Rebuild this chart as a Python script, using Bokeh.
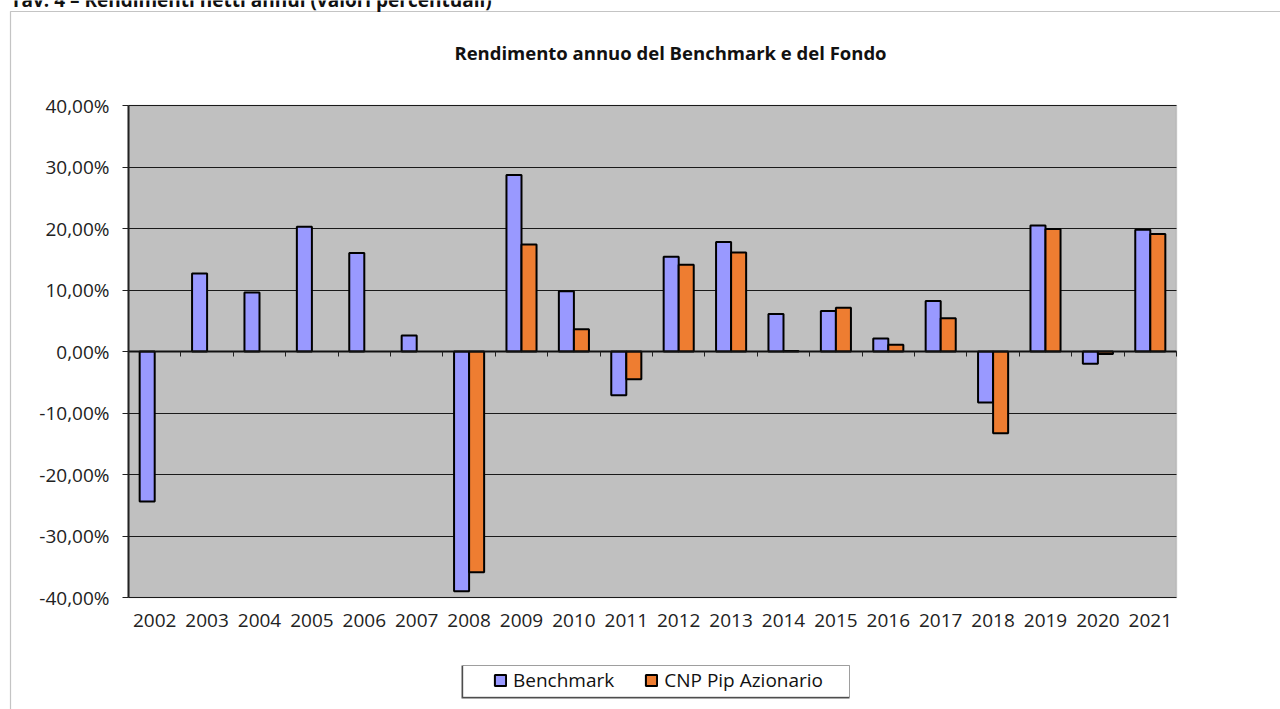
import numpy as np
from bokeh.plotting import figure
from bokeh.models import (Range1d, Label, BoxAnnotation, Legend, LegendItem, Grid,
                          LinearAxis, ColumnDataSource, FixedTicker)
from bokeh.transform import dodge
from bokeh.embed import file_html
from bokeh.resources import INLINE

# ---- data ----
years = ["2002", "2003", "2004", "2005", "2006", "2007", "2008", "2009", "2010", "2011",
         "2012", "2013", "2014", "2015", "2016", "2017", "2018", "2019", "2020", "2021"]
benchmark = [-24.4, 12.7, 9.6, 20.3, 16.0, 2.6, -39.0, 28.7, 9.8, -7.1,
             15.4, 17.8, 6.1, 6.6, 2.1, 8.2, -8.3, 20.5, -2.0, 19.8]
fondo = [None, None, None, None, None, None, -35.9, 17.4, 3.6, -4.5,
         14.1, 16.1, 0.1, 7.1, 1.1, 5.4, -13.3, 19.9, -0.4, 19.1]
y_ticks = [-40, -30, -20, -10, 0, 10, 20, 30, 40]
y_tick_labels = ["-40,00%", "-30,00%", "-20,00%", "-10,00%", "0,00%",
                 "10,00%", "20,00%", "30,00%", "40,00%"]
series_names = ["Benchmark", "CNP Pip Azionario"]
header_text = "Tav. 4 \u2013 Rendimenti netti annui (valori percentuali)"
chart_title = "Rendimento annuo del Benchmark e del Fondo"

n = len(years)
centers = [i + 0.5 for i in range(n)]          # category centres on the x scale
boundaries = [i + 1.0 for i in range(n)]       # category boundaries (axis ticks)
YMIN, YMAX = y_ticks[0], y_ticks[-1]

src = ColumnDataSource(dict(
    xc=centers,
    bench=benchmark,
    fondo=np.array([np.nan if v is None else v for v in fondo], dtype=float),
))

FONT = "Open Sans"
W, H = 1280, 709
PL, PR, PT, PB = 128, 1176, 105, 597   # plot-area box in canvas px
ppx = (PR - PL) / n                     # px per category
ppy = (PB - PT) / (YMAX - YMIN)         # px per percentage point

x_range = Range1d(-PL / ppx, (W - PL) / ppx)
y_range = Range1d(YMIN - (H - PB) / ppy, YMAX + PT / ppy)

p = figure(width=W, height=H, output_backend="svg", toolbar_location=None, title=None,
           x_range=x_range, y_range=y_range, x_axis_location=None, y_axis_location=None,
           min_border=0, tools="")
p.background_fill_color = "white"
p.border_fill_color = "white"
p.outline_line_color = None
p.xgrid.visible = False
p.ygrid.visible = False

def sy(py):  # canvas px (from top) -> screen units (from bottom)
    return H - py

# outer chart border
p.add_layout(BoxAnnotation(left=10, right=W + 100, top=sy(11), bottom=-100,
                           left_units="screen", right_units="screen",
                           top_units="screen", bottom_units="screen",
                           fill_alpha=0, line_color="#3a3a3a", line_width=1.2, level="underlay"))

# plot area
p.add_layout(BoxAnnotation(left=0, right=n, bottom=YMIN, top=YMAX,
                           fill_color="#C0C0C0", fill_alpha=1,
                           line_color="#8C8C8C", line_width=1.5, level="underlay"))

# horizontal grid lines
grid = Grid(dimension=1, ticker=FixedTicker(ticks=y_ticks), grid_line_color="#1a1a1a",
            grid_line_width=1, level="underlay")
if "cross_bounds" in Grid.properties():
    grid.cross_bounds = (0, n)
p.add_layout(grid)

# y axis at the left edge of the plot area
ya = LinearAxis(fixed_location=0, bounds=(YMIN, YMAX),
                ticker=FixedTicker(ticks=y_ticks, minor_ticks=[]))
ya.major_label_overrides = {t: l for t, l in zip(y_ticks, y_tick_labels)}
ya.axis_line_color = "#222222"
ya.axis_line_width = 2
ya.major_tick_line_color = "#222222"
ya.major_tick_out = 6
ya.major_tick_in = 0
ya.minor_tick_line_color = None
ya.major_label_standoff = 13
ya.major_label_text_font = FONT
ya.major_label_text_font_size = "19px"
ya.major_label_text_color = "#222222"
p.add_layout(ya, "left")

# bars
bw = 0.287
r1 = p.vbar(x=dodge("xc", -bw / 2), top="bench", bottom=0, width=bw, source=src,
            fill_color="#9999FF", line_color="black", line_width=2)
r2 = p.vbar(x=dodge("xc", bw / 2), top="fondo", bottom=0, width=bw, source=src,
            fill_color="#EE7D31", line_color="black", line_width=2)

# horizontal category axis crossing at zero (ticks at category boundaries)
xz = LinearAxis(fixed_location=0, bounds=(0, n), ticker=FixedTicker(ticks=boundaries, minor_ticks=[]))
xz.axis_line_color = "#111111"
xz.axis_line_width = 2
xz.major_tick_line_color = "#222222"
xz.major_tick_out = 5
xz.major_tick_in = 0
xz.minor_tick_line_color = None
xz.major_label_text_font_size = "0px"
xz.major_label_text_alpha = 0
p.add_layout(xz, "below")

# category labels at the low end of the plot area
xl = LinearAxis(fixed_location=YMIN, ticker=FixedTicker(ticks=centers, minor_ticks=[]))
xl.major_label_overrides = {c: y for c, y in zip(centers, years)}
xl.axis_line_color = None
xl.major_tick_line_color = None
xl.major_tick_out = 0
xl.major_tick_in = 0
xl.minor_tick_line_color = None
xl.major_label_standoff = 16
xl.major_label_text_font = FONT
xl.major_label_text_font_size = "19px"
xl.major_label_text_color = "#222222"
p.add_layout(xl, "below")

# legend frame (with slight shadow) + legend
p.add_layout(BoxAnnotation(left=461, right=849, top=sy(665), bottom=sy(698),
                           left_units="screen", right_units="screen",
                           top_units="screen", bottom_units="screen",
                           fill_color="#555555", fill_alpha=1, line_alpha=0))
p.add_layout(BoxAnnotation(left=462.5, right=849, top=sy(665), bottom=sy(696.5),
                           left_units="screen", right_units="screen",
                           top_units="screen", bottom_units="screen",
                           fill_color="white", fill_alpha=1, line_color="#222222", line_width=1))
legend = Legend(items=[LegendItem(label=series_names[0], renderers=[r1]),
                       LegendItem(label=series_names[1], renderers=[r2])],
                orientation="horizontal", location=(488, sy(698)),
                padding=5, spacing=30, glyph_width=14, glyph_height=14, label_standoff=6,
                label_text_font=FONT, label_text_font_size="19px", label_text_color="#111111",
                background_fill_alpha=0, border_line_alpha=0, margin=0)
p.add_layout(legend)

# titles
p.add_layout(Label(x=670, y=sy(52), x_units="screen", y_units="screen", text=chart_title,
                   text_align="center", text_baseline="middle", text_font=FONT,
                   text_font_style="bold", text_font_size="18.5px", text_color="#111111"))
p.add_layout(Label(x=10, y=sy(-1), x_units="screen", y_units="screen", text=header_text,
                   text_align="left", text_baseline="alphabetic", text_font=FONT,
                   text_font_style="bold", text_font_size="19px", text_color="#111111"))

open("out.html", "w").write(file_html(p, INLINE))
